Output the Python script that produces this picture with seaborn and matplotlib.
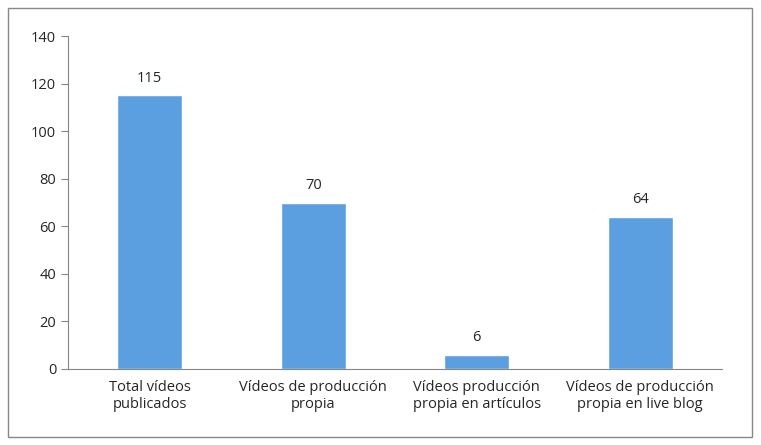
import matplotlib
matplotlib.use("Agg")
import matplotlib.pyplot as plt
import seaborn as sns
import pandas as pd
from matplotlib.patches import Rectangle

categories = ["Total vídeos\npublicados", "Vídeos de producción\npropia",
              "Vídeos producción\npropia en artículos", "Vídeos de producción\npropia en live blog"]
values = [115, 70, 6, 64]

sns.set_style("white")
plt.rcParams['font.family'] = ['Open Sans', 'DejaVu Sans']

fig = plt.figure(figsize=(7.61, 4.45), dpi=100)
fig.patches.append(Rectangle((8/761, 8/445), 744/761, 429/445, transform=fig.transFigure,
                             fill=False, edgecolor='#888888', linewidth=1))
ax = fig.add_axes([68/761, (445-369)/445, (722-68)/761, (369-36)/445])
df = pd.DataFrame({"cat": categories, "val": values})
sns.barplot(data=df, x="cat", y="val", color="#5b9fe0", saturation=1, width=0.4, ax=ax)
for i, v in enumerate(values):
    ax.text(i, v + 4, str(v), ha='center', va='bottom', fontsize=10.5)
ax.set_ylim(0, 140)
ax.set_xlim(-0.5, 3.5)
ax.set_yticks(range(0, 141, 20))
ax.set_xlabel("")
ax.set_ylabel("")
for s in ['top', 'right']:
    ax.spines[s].set_visible(False)
for s in ['left', 'bottom']:
    ax.spines[s].set_color('#868686')
ax.set_xticks([0, 1, 2, 3])
ax.set_xticks([-0.5, 0.5, 1.5, 2.5, 3.5], minor=True)
ax.tick_params(axis='x', which='major', length=0, labelsize=10.5, pad=8)
ax.tick_params(axis='x', which='minor', length=5, color='#868686', direction='out')
ax.tick_params(axis='y', length=5, color='#868686', direction='out', labelsize=10.5, left=True)
fig.savefig("out.png", dpi=100)
